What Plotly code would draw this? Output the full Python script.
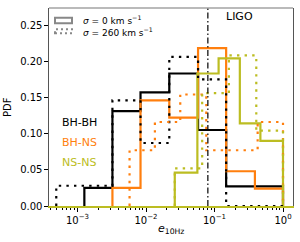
import plotly.graph_objects as go

# ---- data (bin edges in log10(e), PDF values per bin) ----
bhbh_s0_edges = [-2.90, -2.49, -2.08, -1.66, -1.24, -0.83, -0.41, 0.0]
bhbh_s0_vals = [0.025, 0.131, 0.157, 0.183, 0.105, 0.027, 0.027]

bhbh_s260_edges = [-3.31, -2.90, -2.49, -2.08, -1.66, -1.24, -0.83, -0.41, 0.0]
bhbh_s260_vals = [0.028, 0.028, 0.146, 0.087, 0.206, 0.175, 0.0, 0.0]

bhns_s0_edges = [-2.49, -2.08, -1.66, -1.24, -0.83, -0.41, 0.0]
bhns_s0_vals = [0.025, 0.146, 0.122, 0.218, 0.048, 0.024]

bhns_s260_edges = [-2.24, -1.87, -1.50, -1.12, -0.75, -0.37, 0.0]
bhns_s260_vals = [0.077, 0.116, 0.154, 0.077, 0.077, 0.116]

nsns_s0_edges = [-1.58, -1.25, -0.94, -0.63, -0.33, 0.0]
nsns_s0_vals = [0.046, 0.183, 0.204, 0.114, 0.090]

nsns_s260_edges = [-1.58, -1.18, -0.79, -0.39, 0.0]
nsns_s260_vals = [0.052, 0.156, 0.208, 0.104]

ligo_e = 0.08
x_tickvals = [1e-3, 1e-2, 1e-1, 1e0]
x_ticktext = ["10<sup>−3</sup>", "10<sup>−2</sup>", "10<sup>−1</sup>", "10<sup>0</sup>"]
y_tickvals = [0.0, 0.05, 0.10, 0.15, 0.20, 0.25]
y_ticktext = ["0.00", "0.05", "0.10", "0.15", "0.20", "0.25"]
categories = ["BH-BH", "BH-NS", "NS-NS"]

BLACK = "black"
ORANGE = "#ff7f0e"
OLIVE = "#bcbd22"
FONT = "DejaVu Sans"


def step_xy(edges_log, vals):
    edges = [10 ** e for e in edges_log]
    xs = [edges[0]]
    ys = [0.0]
    for i, v in enumerate(vals):
        xs += [edges[i], edges[i + 1]]
        ys += [v, v]
    xs.append(edges[-1])
    ys.append(0.0)
    return xs, ys


fig = go.Figure()
DOT = "2.4px,5.2px"
series = [
    (bhbh_s0_edges, bhbh_s0_vals, BLACK, "solid"),
    (bhns_s0_edges, bhns_s0_vals, ORANGE, "solid"),
    (nsns_s0_edges, nsns_s0_vals, OLIVE, "solid"),
    (bhbh_s260_edges, bhbh_s260_vals, BLACK, DOT),
    (bhns_s260_edges, bhns_s260_vals, ORANGE, DOT),
    (nsns_s260_edges, nsns_s260_vals, OLIVE, DOT),
]
for edges, vals, col, dash in series:
    xs, ys = step_xy(edges, vals)
    fig.add_trace(go.Scatter(x=xs, y=ys, mode="lines",
                             line=dict(color=col, width=2.2, dash=dash),
                             showlegend=False, hoverinfo="skip"))

# LIGO threshold line
fig.add_trace(go.Scatter(x=[ligo_e, ligo_e], y=[0, 0.2735], mode="lines",
                         line=dict(color="black", width=1.2, dash="6px,2.5px,1.5px,2.5px"),
                         showlegend=False, hoverinfo="skip"))

minor_vals = []
for d in range(-4, 0):
    for m in range(2, 10):
        v = m * 10 ** d
        if v > 10 ** -3.416:
            minor_vals.append(v)

fig.update_layout(
    width=300, height=242,
    margin=dict(l=49, r=7, t=8, b=36),
    paper_bgcolor="white", plot_bgcolor="white",
    font=dict(family=FONT, size=10, color="black"),
    xaxis=dict(type="log", range=[-3.416, 0.146], showgrid=False, zeroline=False,
               tickvals=x_tickvals, ticktext=x_ticktext, ticks="outside", ticklen=3.5,
               tickwidth=1, tickcolor="black", showline=True, linecolor=OLIVE, linewidth=2,
               tickfont=dict(size=10, color="black", family=FONT),
               minor=dict(tickvals=minor_vals, ticks="outside", ticklen=2, tickcolor="black", tickwidth=0.8)),
    yaxis=dict(range=[0, 0.2735], showgrid=False, zeroline=False,
               tickvals=y_tickvals, ticktext=y_ticktext, ticks="outside", ticklen=3.5,
               tickwidth=1, tickcolor="black", showline=True, mirror=True,
               linecolor="#555", linewidth=1.2,
               tickfont=dict(size=10, color="black", family=FONT)),
)

# top spine
fig.add_shape(type="line", xref="paper", yref="paper", x0=0, x1=1, y0=1, y1=1,
              line=dict(color="#777", width=1.2))

def px2p(px, py):
    return (px - 49) / 244.0, (206 - py) / 198.0

# legend handles
x0, y0 = px2p(55, 17.7)
x1, y1 = px2p(72, 23.3)
fig.add_shape(type="rect", xref="paper", yref="paper", x0=x0, x1=x1, y0=y1, y1=y0,
              line=dict(color="#888", width=2))
x0, y0 = px2p(55, 29.3)
x1, y1 = px2p(72, 33.3)
fig.add_shape(type="rect", xref="paper", yref="paper", x0=x0, x1=x1, y0=y1, y1=y0,
              line=dict(color="#888", width=2, dash="2px,3px"))

annots = []
lx, ly = px2p(81, 20)
annots.append(dict(text="<i>σ</i> = 0 km s<sup>−1</sup>", x=lx, y=ly, xanchor="left", yanchor="middle",
                   font=dict(size=9, color="black", family=FONT)))
lx, ly = px2p(81, 32)
annots.append(dict(text="<i>σ</i> = 260 km s<sup>−1</sup>", x=lx, y=ly, xanchor="left", yanchor="middle",
                   font=dict(size=9, color="black", family=FONT)))

for name, col, py in zip(categories, [BLACK, ORANGE, OLIVE], [122.7, 142.7, 162.7]):
    ax, ay = px2p(60, py)
    annots.append(dict(text=name, x=ax, y=ay, xanchor="left", yanchor="middle",
                       font=dict(size=11, color=col, family=FONT)))

ax, ay = px2p(239.5, 16.7)
annots.append(dict(text="LIGO", x=ax, y=ay, xanchor="center", yanchor="middle",
                   font=dict(size=11, color="black", family=FONT)))

ax, ay = px2p(7, 107)
annots.append(dict(text="PDF", x=ax, y=ay, xanchor="center", yanchor="middle", textangle=-90,
                   font=dict(size=10, color="black", family=FONT)))

ax, ay = px2p(171, 229)
annots.append(dict(text="<i>e</i><sub>10Hz</sub>", x=ax, y=ay, xanchor="center", yanchor="middle",
                   font=dict(size=11, color="black", family=FONT)))

for a in annots:
    a.update(xref="paper", yref="paper", showarrow=False)
fig.update_layout(annotations=annots)

fig.write_html("out.html", config={"displayModeBar": False},
               post_script="document.body.style.margin='0';document.body.style.padding='0';")
